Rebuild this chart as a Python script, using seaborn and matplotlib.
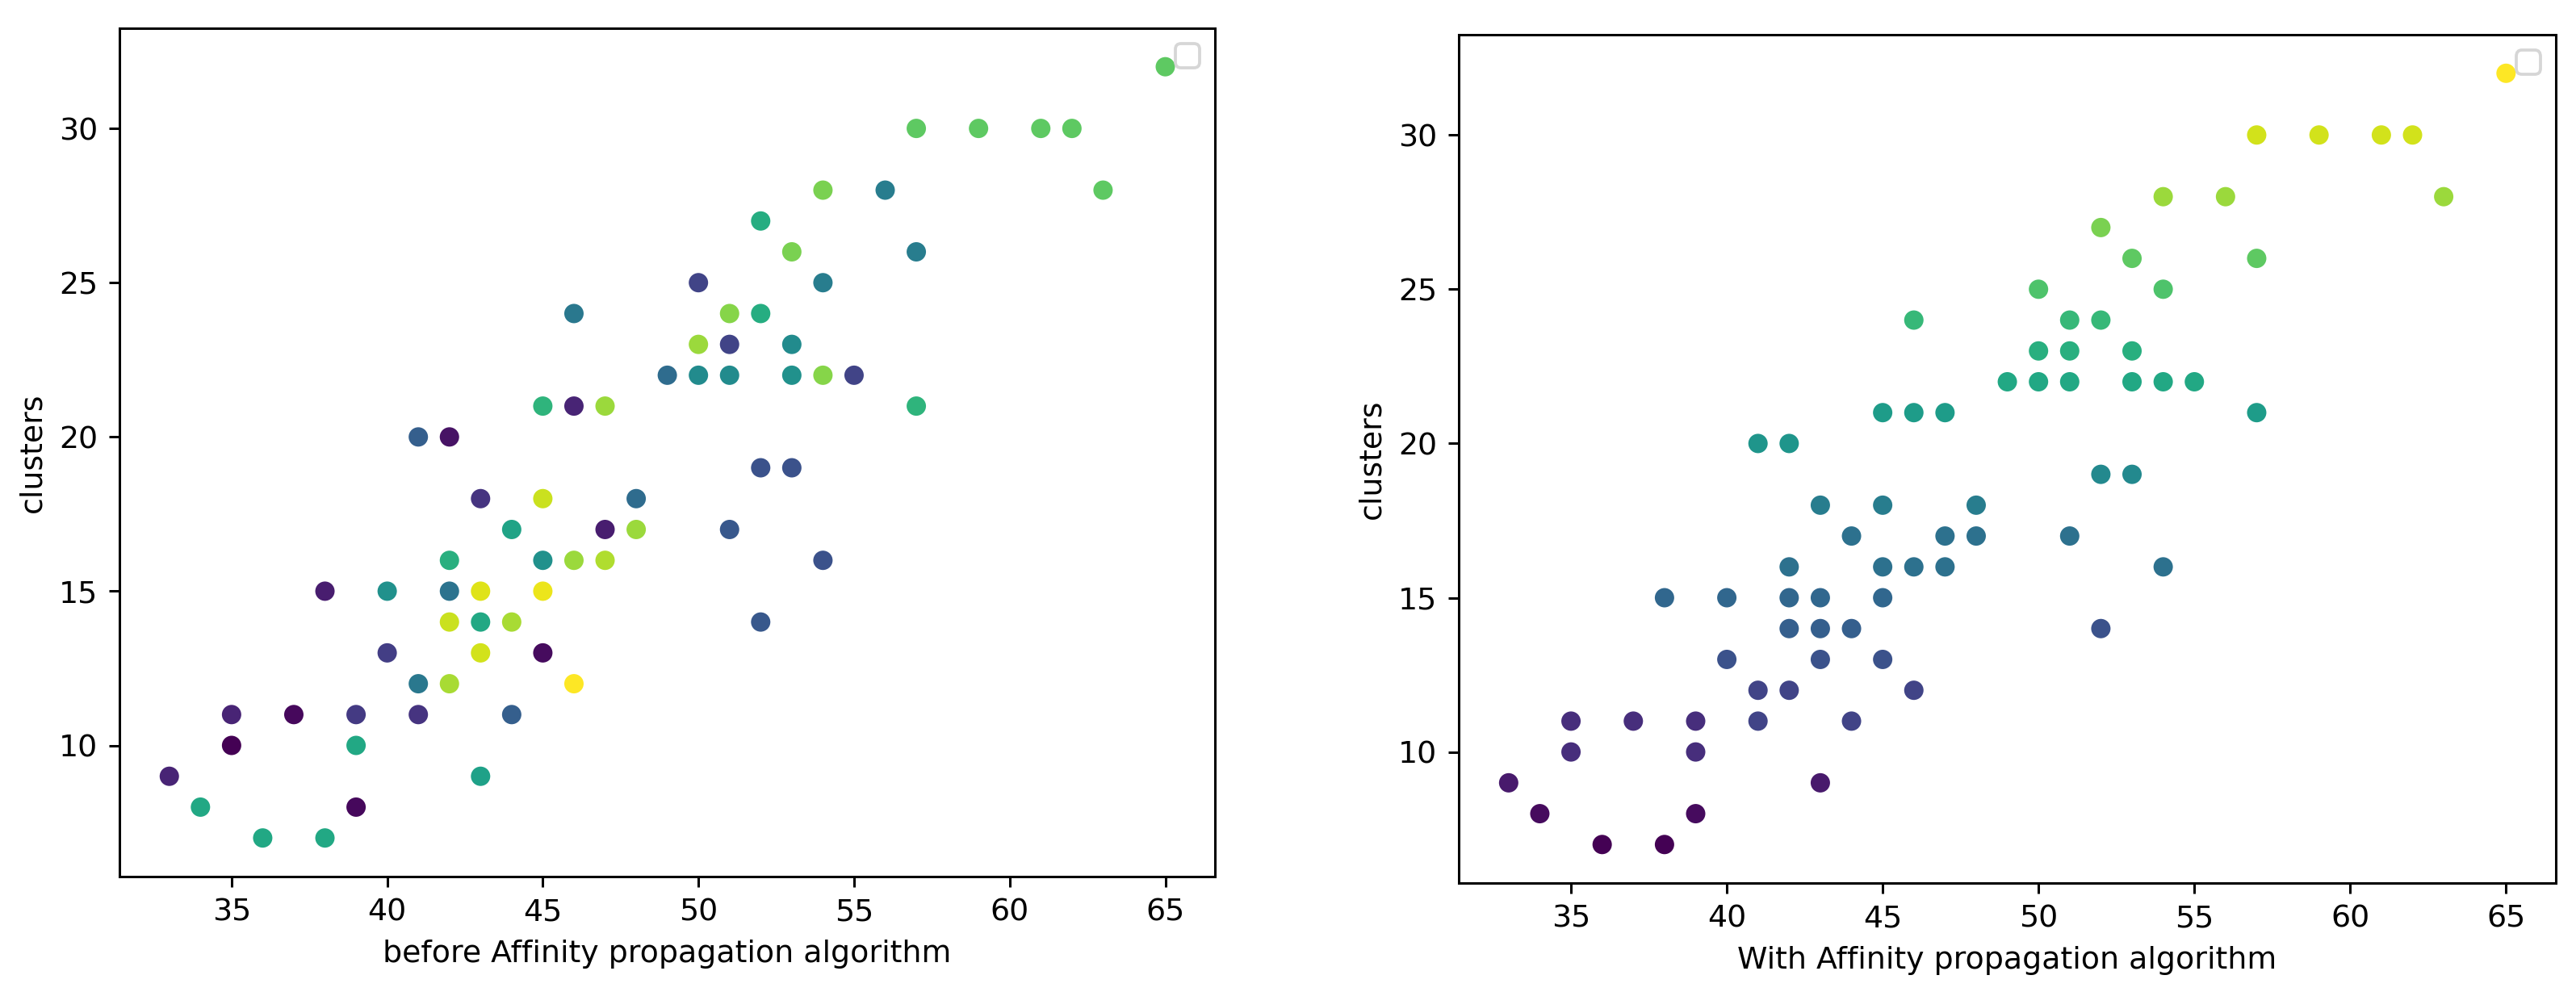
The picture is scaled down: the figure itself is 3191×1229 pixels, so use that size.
import matplotlib
matplotlib.use('Agg')
import matplotlib.pyplot as plt
import seaborn as sns
import pandas as pd

# 데이터
age = [36, 38, 34, 39, 33, 43, 35, 39,
       35, 37, 39, 41, 44, 41, 42, 46, 40, 43, 45,
       42, 43, 44, 52, 38, 40, 42, 43, 45,
       42, 45, 46, 47, 54, 44, 47, 48, 51,
       43, 45, 48, 52, 53, 41, 42, 45, 46, 47, 57,
       49, 50, 51, 53, 54, 55, 50, 51, 53,
       46, 51, 52, 50, 54, 53, 57, 52,
       54, 56, 63, 57, 59, 61, 62, 65]
clusters = [7, 7, 8, 8, 9, 9, 10, 10,
            11, 11, 11, 11, 11, 12, 12, 12, 13, 13, 13,
            14, 14, 14, 14, 15, 15, 15, 15, 15,
            16, 16, 16, 16, 16, 17, 17, 17, 17,
            18, 18, 18, 19, 19, 20, 20, 21, 21, 21, 21,
            22, 22, 22, 22, 22, 22, 23, 23, 23,
            24, 24, 24, 25, 25, 26, 26, 27,
            28, 28, 28, 30, 30, 30, 30, 32]

# 색상 값 (viridis 0~1)
color_before = [0.60, 0.60, 0.60, 0.02, 0.10, 0.57, 0.00, 0.60,
                0.10, 0.02, 0.17, 0.15, 0.30, 0.40, 0.87, 1.00, 0.18, 0.93, 0.03,
                0.92, 0.60, 0.87, 0.27, 0.08, 0.50, 0.38, 0.95, 0.97,
                0.63, 0.50, 0.85, 0.88, 0.25, 0.58, 0.08, 0.85, 0.27,
                0.15, 0.92, 0.35, 0.25, 0.25, 0.30, 0.05, 0.65, 0.10, 0.85, 0.65,
                0.35, 0.48, 0.48, 0.50, 0.82, 0.20, 0.85, 0.20, 0.48,
                0.40, 0.82, 0.62, 0.20, 0.42, 0.80, 0.42, 0.62,
                0.80, 0.42, 0.75, 0.75, 0.75, 0.75, 0.75, 0.75]
color_after = [0.00, 0.00, 0.03, 0.03, 0.07, 0.07, 0.13, 0.13,
               0.13, 0.13, 0.13, 0.20, 0.20, 0.20, 0.20, 0.20, 0.25, 0.25, 0.25,
               0.30, 0.30, 0.30, 0.25, 0.33, 0.33, 0.33, 0.33, 0.33,
               0.37, 0.37, 0.37, 0.37, 0.37, 0.37, 0.37, 0.37, 0.37,
               0.42, 0.42, 0.42, 0.47, 0.47, 0.52, 0.52, 0.55, 0.55, 0.55, 0.55,
               0.60, 0.60, 0.60, 0.60, 0.60, 0.60, 0.63, 0.63, 0.63,
               0.67, 0.67, 0.67, 0.72, 0.72, 0.75, 0.75, 0.80,
               0.85, 0.85, 0.85, 0.93, 0.93, 0.93, 0.93, 1.00]

xlabels = ['before Affinity propagation algorithm', 'With Affinity propagation algorithm']

df = pd.DataFrame({'age': age, 'clusters': clusters,
                   'before': color_before, 'after': color_after})

plt.rcParams['font.family'] = ['DejaVu Sans']
plt.rcParams['font.size'] = 10

fig = plt.figure(figsize=(3191 / 273, 1229 / 273), dpi=273)
ax1 = fig.add_axes([0.0464, 0.1164, 0.4253, 0.8552])
ax2 = fig.add_axes([0.5663, 0.1098, 0.4259, 0.8552])

for ax, col, label in zip([ax1, ax2], ['before', 'after'], xlabels):
    sns.scatterplot(data=df, x='age', y='clusters', hue=col, palette='viridis',
                    hue_norm=(0, 1), s=40, linewidth=0, legend=False, ax=ax)
    ax.set_xlabel(label)
    ax.set_ylabel('clusters')
    ax.set_xticks([35, 40, 45, 50, 55, 60, 65])
    ax.set_yticks([10, 15, 20, 25, 30])
    ax.set_xlim(31.4, 66.6)
    ax.set_ylim(5.75, 33.25)
    # 빈 범례 상자
    ax.legend(loc='upper right')

plt.savefig('out.png', dpi=273)
